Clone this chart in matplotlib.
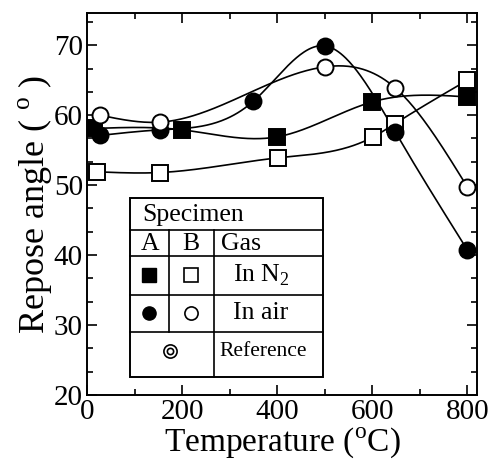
import numpy as np
import matplotlib
matplotlib.use('Agg')
import matplotlib.pyplot as plt
from matplotlib.ticker import MultipleLocator

plt.rcParams['font.family'] = ['Liberation Serif', 'DejaVu Serif']
plt.rcParams['mathtext.fontset'] = 'custom'
plt.rcParams['mathtext.rm'] = 'Liberation Serif'

# Dados (temperatura em C, angulo em graus)
temp_a_n2 = [15, 200, 400, 600, 800]
ang_a_n2 = [58.1, 57.9, 56.9, 61.9, 62.6]

temp_b_n2 = [21, 154, 402, 602, 648, 800]
ang_b_n2 = [51.9, 51.8, 53.9, 56.9, 58.8, 65.0]

temp_a_air = [27, 154, 350, 500, 648, 800]
ang_a_air = [57.1, 57.9, 62.0, 69.9, 57.6, 40.7]

temp_b_air = [27, 154, 500, 648, 800]
ang_b_air = [60.0, 59.0, 66.9, 63.9, 49.7]


# spline cubica natural so para desenhar a curva lisa entre os pontos
def spline(x, y, n=300):
    x = np.asarray(x, float)
    y = np.asarray(y, float)
    k = len(x)
    h = np.diff(x)
    A = np.zeros((k, k))
    b = np.zeros(k)
    A[0, 0] = 1
    A[-1, -1] = 1
    for i in range(1, k - 1):
        A[i, i - 1] = h[i - 1]
        A[i, i] = 2 * (h[i - 1] + h[i])
        A[i, i + 1] = h[i]
        b[i] = 6 * ((y[i + 1] - y[i]) / h[i] - (y[i] - y[i - 1]) / h[i - 1])
    M = np.linalg.solve(A, b)
    xs = np.linspace(x[0], x[-1], n)
    j = np.clip(np.searchsorted(x, xs) - 1, 0, k - 2)
    t1 = x[j + 1] - xs
    t0 = xs - x[j]
    hj = h[j]
    ys = (M[j] * t1 ** 3 / (6 * hj) + M[j + 1] * t0 ** 3 / (6 * hj)
          + (y[j] / hj - M[j] * hj / 6) * t1 + (y[j + 1] / hj - M[j + 1] * hj / 6) * t0)
    return xs, ys


W, H = 493, 465
fig = plt.figure(figsize=(W / 100, H / 100), dpi=100)
ax = fig.add_axes([87 / W, 70 / H, 390 / W, 382 / H])

series = [
    (temp_a_n2, ang_a_n2, 's', 'black'),
    (temp_b_n2, ang_b_n2, 's', 'white'),
    (temp_a_air, ang_a_air, 'o', 'black'),
    (temp_b_air, ang_b_air, 'o', 'white'),
]
for tx, ty, mk, fc in series:
    xs, ys = spline(tx, ty)
    ax.plot(xs, ys, color='black', lw=1.2, zorder=2)
for tx, ty, mk, fc in series:
    ax.plot(tx, ty, mk, ms=12 if mk == 's' else 11.5, mfc=fc, mec='black', mew=1.4,
            ls='none', zorder=3)

ax.set_xlim(0, 820)
ax.set_ylim(20, 74.6)
ax.xaxis.set_major_locator(MultipleLocator(200))
ax.xaxis.set_minor_locator(MultipleLocator(100))
ax.yaxis.set_major_locator(MultipleLocator(10))
ax.yaxis.set_minor_locator(MultipleLocator(10 / 3))
ax.tick_params(which='both', direction='in', top=True, right=True, width=1.2,
               labelsize=21, pad=3)
ax.tick_params(which='major', length=7)
ax.tick_params(which='minor', length=4)
for s in ax.spines.values():
    s.set_linewidth(1.4)

ax.set_xlabel('Temperature ($^{\\mathrm{o}}$C)', fontsize=24, labelpad=0)
ax.set_ylabel('Repose angle ( $^{\\mathrm{o}}$ )', fontsize=26, labelpad=0)


# Tabela da legenda, coordenadas em pixels da figura
def fx(px):
    return px / W


def fy(py):
    return (H - py) / H


def linha(x0, y0, x1, y1):
    fig.add_artist(plt.Line2D([fx(x0), fx(x1)], [fy(y0), fy(y1)], color='black',
                              lw=1.2, transform=fig.transFigure, zorder=5))


fig.patches.append(plt.Rectangle((fx(130), fy(377)), fx(323) - fx(130), fy(198) - fy(377),
                                 facecolor='white', edgecolor='black', lw=1.4,
                                 transform=fig.transFigure, zorder=4))
for py in [230, 256, 295, 332]:
    linha(130, py, 323, py)
linha(169, 230, 169, 332)
linha(214, 230, 214, 377)

fig.text(fx(142), fy(215), 'Specimen', fontsize=18.5, va='center', ha='left', zorder=6)
fig.text(fx(150), fy(244), 'A', fontsize=18.5, va='center', ha='center', zorder=6)
fig.text(fx(191), fy(244), 'B', fontsize=18.5, va='center', ha='center', zorder=6)
fig.text(fx(221), fy(244), 'Gas', fontsize=18.5, va='center', ha='left', zorder=6)
fig.text(fx(233), fy(275), 'In N$_2$', fontsize=18.5, va='center', ha='left', zorder=6)
fig.text(fx(233), fy(313), 'In air', fontsize=18.5, va='center', ha='left', zorder=6)
fig.text(fx(219), fy(351), 'Reference', fontsize=15.5, va='center', ha='left', zorder=6)

leg = fig.add_axes([fx(130), fy(377), fx(323) - fx(130), fy(198) - fy(377)], zorder=7)
leg.set_xlim(130, 323)
leg.set_ylim(377, 198)
leg.axis('off')
leg.plot([149], [275], 's', ms=10, mfc='black', mec='black')
leg.plot([191], [275], 's', ms=10, mfc='white', mec='black', mew=1.2)
leg.plot([149], [313], 'o', ms=9.5, mfc='black', mec='black')
leg.plot([191], [313], 'o', ms=9.5, mfc='white', mec='black', mew=1.2)
leg.plot([170], [351], 'o', ms=9.5, mfc='white', mec='black', mew=1.2)
leg.plot([170], [351], 'o', ms=4.5, mfc='white', mec='black', mew=1.2)

fig.savefig('out.png', dpi=100)
